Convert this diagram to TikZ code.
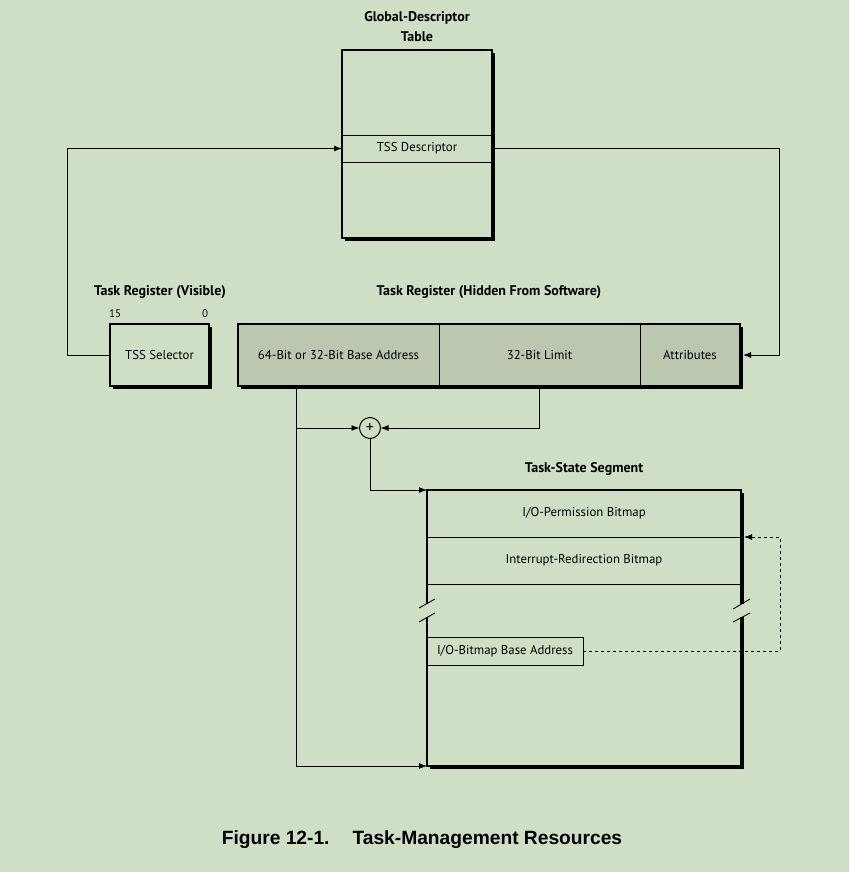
\documentclass[tikz,border=0pt]{standalone}
\usepackage{fontspec}
\setmainfont{PT Sans}
\newfontfamily\capfont{Liberation Sans}
\usetikzlibrary{arrows.meta,shadows}
\definecolor{bg}{RGB}{207,223,197}
\definecolor{regfill}{RGB}{187,200,175}
\begin{document}
\begin{tikzpicture}[x=1pt,y=-1pt,
  every node/.style={inner sep=0pt, outer sep=0pt, font=\fontsize{12.8}{14}\selectfont},
  shbox/.style={draw, line width=1.1pt, fill=bg, general shadow={fill=black, shadow xshift=2.6pt, shadow yshift=-2.6pt}},
  cell/.style={draw, line width=1pt},
  ttl/.style={font=\fontsize{14}{20}\selectfont\bfseries, align=center},
  bits/.style={font=\fontsize{11}{13}\selectfont},
  arr/.style={line width=0.9pt, -{Latex[length=8pt,width=6pt]}},
  conn/.style={line width=0.9pt}]
\useasboundingbox[fill=bg] (0,0) rectangle (849,872);

% Global descriptor table
\node[shbox, minimum width=150pt, minimum height=188pt] (gdt) at (417,144) {};
\node[cell, minimum width=150pt, minimum height=27pt] (tssd) at (417,148.5) {TSS Descriptor};
\node[ttl] (gdtt) at (417,27) {Global-Descriptor\\Table};

% Visible task register
\node[ttl] (trv) at (160,292) {Task Register (Visible)};
\node[bits] (b15) at (115,314) {15};
\node[bits] (b0) at (205,314) {0};
\node[shbox, minimum width=99pt, minimum height=62pt] (sel) at (159.5,355) {TSS Selector};

% Hidden task register
\node[ttl] (trh) at (489,292) {Task Register (Hidden From Software)};
\node[shbox, fill=regfill, minimum width=502pt, minimum height=62pt] (hreg) at (489,355) {};
\node[cell, minimum width=201pt, minimum height=62pt] (base) at (338.5,355) {64-Bit or 32-Bit Base Address};
\node[cell, minimum width=201pt, minimum height=62pt] (limit) at (539.5,355) {32-Bit Limit};
\node[cell, minimum width=100pt, minimum height=62pt] (attr) at (690,355) {Attributes};

% adder
\node[draw, circle, line width=1pt, minimum size=21pt, font=\fontsize{16}{16}\selectfont] (plus) at (370,428) {+};

% Task-state segment
\node[ttl] (tsst) at (584,469) {Task-State Segment};
\node[shbox, minimum width=314pt, minimum height=276pt] (tss) at (584,628) {};
\node[cell, minimum width=314pt, minimum height=47pt] (iopb) at (584,513.5) {I/O-Permission Bitmap};
\node[cell, minimum width=314pt, minimum height=47pt] (irb) at (584,560.5) {Interrupt-Redirection Bitmap};
\node[cell, minimum width=156pt, minimum height=28pt] (iobase) at (505,651) {I/O-Bitmap Base Address};

% break marks
\fill[bg] (423,604) rectangle (747,617);
\draw[line width=0.9pt] (419,608) -- (435,599);
\draw[line width=0.9pt] (419,622) -- (435,613);
\draw[line width=0.9pt] (733,609) -- (750,599);
\draw[line width=0.9pt] (733,622) -- (750,613);

% connectors
\coordinate (lft) at (67,355);
\coordinate (rgt) at (779,148.5);
\coordinate (bdown) at (296,386);
\coordinate (bbranch) at (296,428);
\coordinate (dright) at (780,651);
\draw[arr] (sel.west) -- (lft) |- (tssd.west);
\draw[arr] (tssd.east) -- (rgt) |- ([xshift=3pt]attr.east);
\draw[arr] (bdown) |- (tss.south west);
\draw[arr] (bbranch) -- (plus.west);
\draw[arr] (limit.south) |- (plus.east);
\draw[arr] (plus.south) |- (tss.north west);
\draw[arr, dash pattern=on 3pt off 3pt] (iobase.east) -- (dright) |- ([xshift=3pt]irb.north east);

% caption
\node[font=\capfont\fontsize{19.2}{21}\selectfont\bfseries] (cap) at (422,840) {Figure 12-1.\hspace{23pt}Task-Management Resources};
\end{tikzpicture}
\end{document}
